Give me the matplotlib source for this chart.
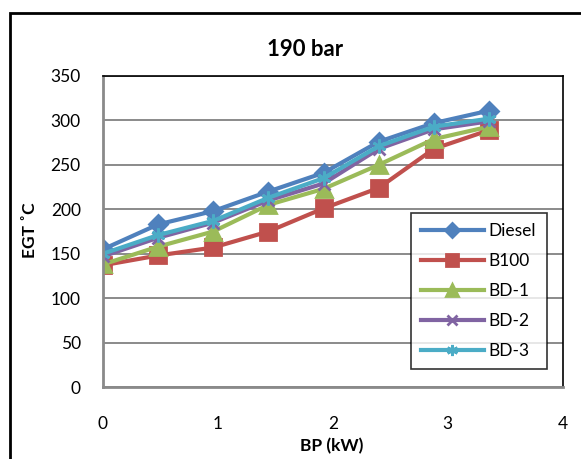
import matplotlib
matplotlib.use("Agg")
import matplotlib.pyplot as plt
from matplotlib.patches import Rectangle

plt.rcParams['font.family'] = ['Lato', 'DejaVu Sans']

# brake power (kW)
bp = [0, 0.48, 0.96, 1.44, 1.92, 2.40, 2.88, 3.36]

# exhaust gas temperature (deg C) at 190 bar
diesel = [155, 183, 198, 220, 241, 276, 297, 311]
b100 = [137, 148, 157, 175, 201, 224, 268, 289]
bd1 = [138, 158, 175, 205, 223, 250, 279, 293]
bd2 = [147, 168, 185, 210, 229, 268, 290, 299]
bd3 = [150, 171, 187, 213, 235, 271, 293, 302]

names = ["Diesel", "B100", "BD-1", "BD-2", "BD-3"]
series = [diesel, b100, bd1, bd2, bd3]
colors = ["#4F81BD", "#C0504D", "#9BBB59", "#8064A2", "#4BACC6"]
markers = ["D", "s", "^", "x", (6, 2, 0)]
msizes = [9, 11, 11, 9, 10]

fig = plt.figure(figsize=(5.81, 4.59), dpi=100)
ax = fig.add_axes([103/581, 1-387/459, (562.5-103)/581, (387-76)/459])

for ys, nm, c, m, ms in zip(series, names, colors, markers, msizes):
    ax.plot(bp, ys, color=c, lw=3, marker=m, ms=ms, mew=2, mec=c, mfc=c, label=nm)

ax.set_xlim(0, 4)
ax.set_ylim(0, 350)
ax.set_xticks([0, 1, 2, 3, 4])
ax.set_yticks(range(0, 351, 50))
ax.grid(axis='y', color='#8a8a8a', lw=1.4)
ax.set_axisbelow(True)
ax.tick_params(length=0, labelsize=12.5)
ax.tick_params(axis='y', pad=16)
ax.tick_params(axis='x', pad=21)
for s in ['left', 'bottom']:
    ax.spines[s].set_color('#8a8a8a')
    ax.spines[s].set_linewidth(2)
for s in ['top', 'right']:
    ax.spines[s].set_color('black')
    ax.spines[s].set_linewidth(1.2)

leg = ax.legend(loc='lower right', bbox_to_anchor=(546.7/581, 1-369/459), bbox_transform=fig.transFigure,
                fontsize=12.5, frameon=True, fancybox=False, borderpad=0.6, labelspacing=0.8,
                handlelength=3.6, handletextpad=0.3, borderaxespad=0, markerscale=0.8)
leg.get_frame().set_edgecolor('black')
leg.get_frame().set_linewidth(1.2)

fig.text(305/581, 1-50/459, "190 bar", ha='center', va='center', fontsize=16, fontweight='bold')
fig.text(30/581, 1-230/459, "EGT ˚C", ha='center', va='center', rotation=90, fontsize=12.5, fontweight='bold')
fig.text(332/581, 1-446/459, "BP (kW)", ha='center', va='center', fontsize=12.5, fontweight='bold')

fig.patches.append(Rectangle((10/581, -0.05), 1.2, 1-13/459+0.05, transform=fig.transFigure,
                             fill=False, ec='black', lw=2))

fig.savefig("out.png", dpi=100)
